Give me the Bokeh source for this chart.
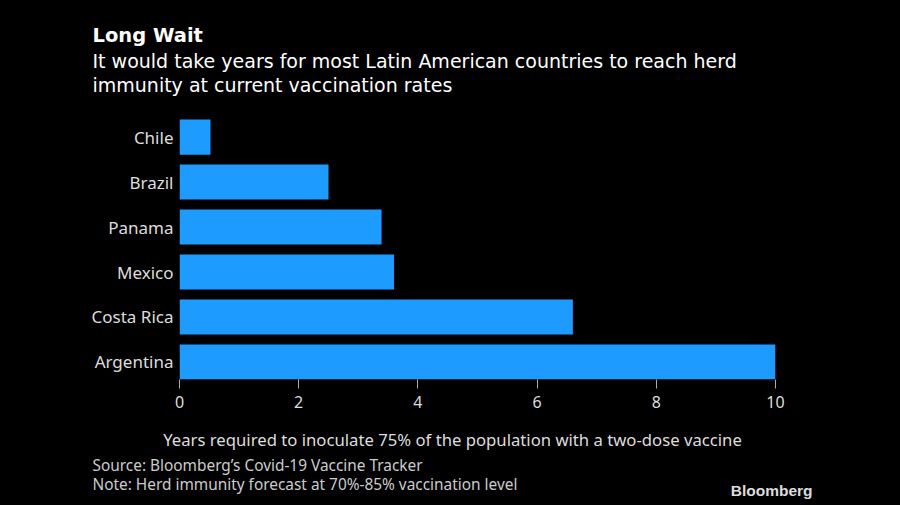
from bokeh.plotting import figure
from bokeh.models import Label, ColumnDataSource, FixedTicker, Range1d
from bokeh.layouts import column
from bokeh.embed import file_html
from bokeh.resources import INLINE

countries = ["Chile", "Brazil", "Panama", "Mexico", "Costa Rica", "Argentina"]
years = [0.52, 2.5, 3.39, 3.6, 6.6, 10.0]
x_ticks = [0, 2, 4, 6, 8, 10]

title = "Long Wait"
subtitle1 = "It would take years for most Latin American countries to reach herd"
subtitle2 = "immunity at current vaccination rates"
x_label = "Years required to inoculate 75% of the population with a two-dose vaccine"
source_note = "Source: Bloomberg\u2019s Covid-19 Vaccine Tracker"
note = "Note: Herd immunity forecast at 70%-85% vaccination level"
brand = "Bloomberg"

W, H = 900, 505
TOP_H, BOT_Y = 110, 420          # page rows: header 0..110, chart 110..420, footer 420..505
FL, FR, FT, FB = 179, 775, 115, 379   # frame edges in page pixels
BAR_H = 0.78
BG = "black"
STY = {"background-color": BG}

def blank(y0, y1):
    f = figure(width=W, height=y1 - y0, output_backend="svg", toolbar_location=None,
               x_range=Range1d(0, W), y_range=Range1d(y1 - y0, 0),
               background_fill_color=BG, border_fill_color=BG,
               min_border=0, min_border_left=0, min_border_right=0,
               min_border_top=0, min_border_bottom=0, frame_align=False, styles=STY)
    f.axis.visible = False
    f.grid.visible = False
    f.outline_line_color = None
    return f

def lab(f, y0, text, px, py, size, color="white", style="normal", font="DejaVu Sans", align="left"):
    f.add_layout(Label(text=text, x=px, y=py - y0,
                       text_font=font, text_font_size=size, text_color=color,
                       text_font_style=style, text_align=align, text_baseline="alphabetic"))

# header
top = blank(0, TOP_H)
lab(top, 0, title, 92, 35, "19.5px", style="bold")
lab(top, 0, subtitle1, 92, 60, "19px")
lab(top, 0, subtitle2, 92, 84, "19px")

# chart
n = len(countries)
ypos = [n - 1 - i for i in range(n)]
src = ColumnDataSource(dict(y=ypos, years=years, country=countries))

p = figure(width=W, height=BOT_Y - TOP_H, output_backend="svg", toolbar_location=None,
           x_range=Range1d(0, 10), y_range=Range1d(-BAR_H / 2, n - 1 + 0.48),
           background_fill_color=BG, border_fill_color=BG,
           min_border_left=FL, min_border_right=W - FR,
           min_border_top=FT - TOP_H, min_border_bottom=BOT_Y - FB,
           frame_align=False, styles=STY)
p.outline_line_color = None
p.grid.visible = False

p.hbar(y="y", right="years", left=0, height=BAR_H, source=src,
       color="#1e9bff", line_color=None)

xa = p.xaxis[0]
xa.ticker = FixedTicker(ticks=x_ticks)
xa.axis_line_color = None
xa.major_tick_line_color = "#aaaaaa"
xa.major_tick_out = 9
xa.major_tick_in = 0
xa.minor_tick_line_color = None
xa.major_label_text_color = "#dddddd"
xa.major_label_text_font = "Noto Sans"
xa.major_label_text_font_size = "16px"
xa.major_label_standoff = 7

ya = p.yaxis[0]
ya.ticker = FixedTicker(ticks=ypos)
ya.major_label_overrides = {y: c for y, c in zip(ypos, countries)}
ya.axis_line_color = None
ya.major_tick_line_color = None
ya.major_tick_out = 0
ya.major_tick_in = 0
ya.minor_tick_line_color = None
ya.major_label_text_color = "#dddddd"
ya.major_label_text_font = "Noto Sans"
ya.major_label_text_font_size = "17px"
ya.major_label_standoff = 6

# footer
bot = blank(BOT_Y, H)
lab(bot, BOT_Y, x_label, 452, 439, "16.7px", color="#dddddd", font="Noto Sans", align="center")
lab(bot, BOT_Y, source_note, 92, 465, "15.4px", color="#cccccc", font="Noto Sans")
lab(bot, BOT_Y, note, 92, 484, "15.4px", color="#cccccc", font="Noto Sans")
lab(bot, BOT_Y, brand, 812, 490, "15.5px", color="#dddddd", style="bold", font="Liberation Sans", align="right")

page = column(top, p, bot, spacing=0, styles=STY)
open("out.html", "w").write(file_html(page, INLINE))
